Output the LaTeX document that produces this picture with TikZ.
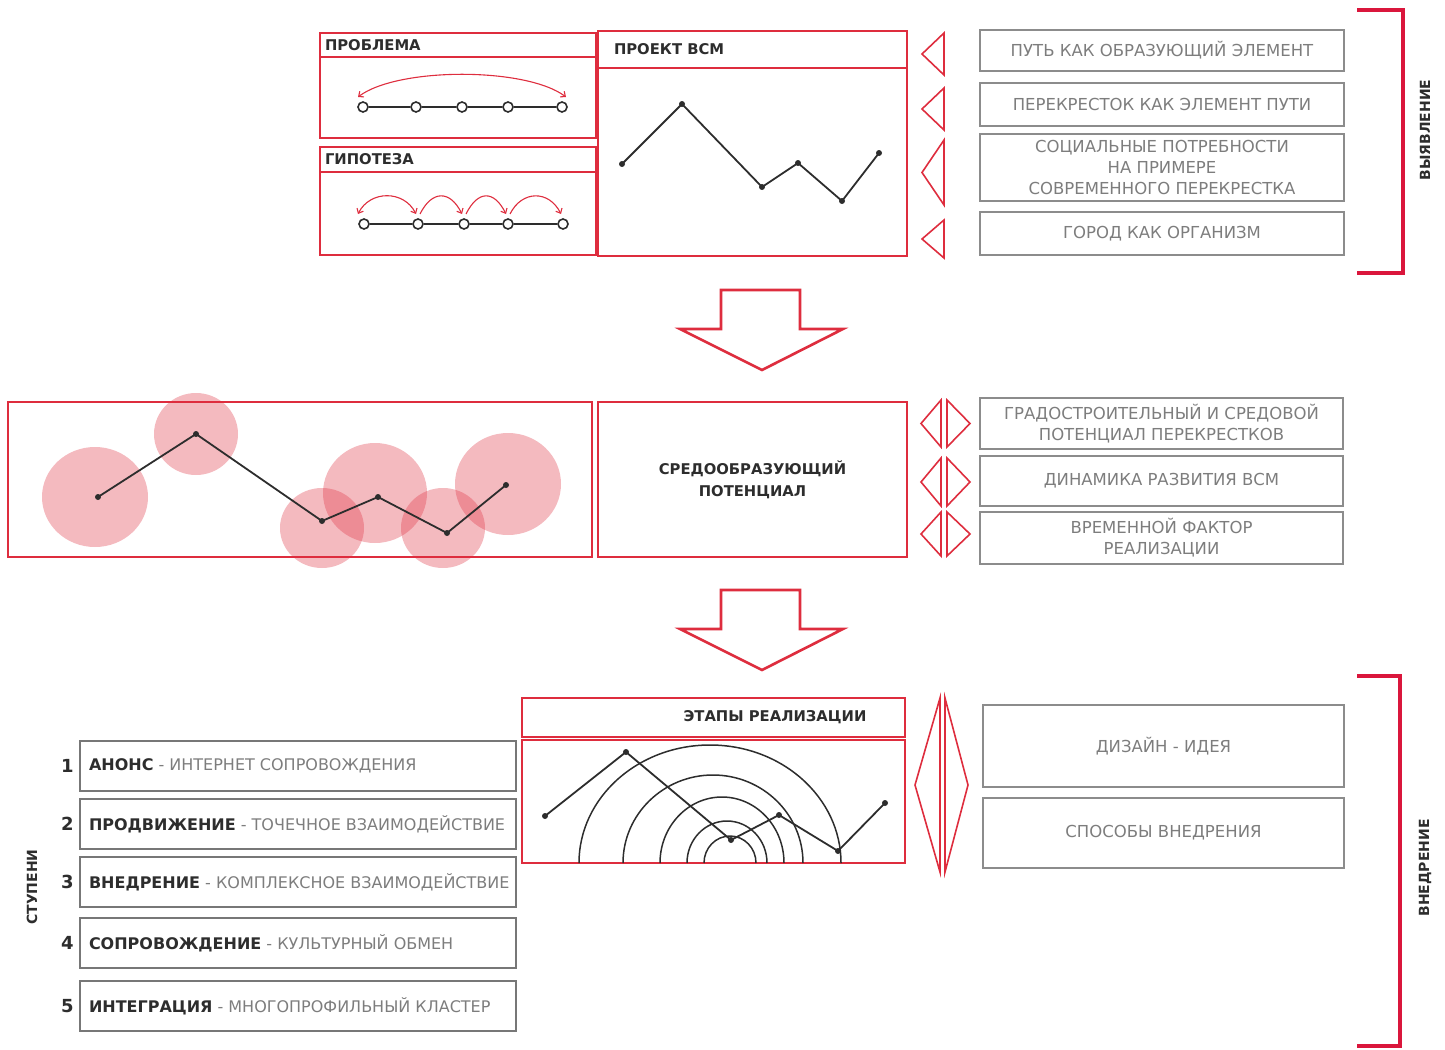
\documentclass[tikz,border=0pt]{standalone}
\usepackage{fontspec}
\setmainfont{DejaVu Sans}
\usepackage{xcolor}
\usepackage{tikz}
\usetikzlibrary{arrows.meta, positioning, fit}
\definecolor{myred}{RGB}{222,45,62}
\definecolor{brred}{RGB}{218,22,60}
\definecolor{mydark}{RGB}{45,45,45}
\definecolor{boxgrey}{RGB}{140,140,140}
\definecolor{txtgrey}{RGB}{125,125,125}
\newcommand{\hdrfont}{\bfseries\fontsize{14.8}{22}\selectfont}
\newcommand{\greyfont}{\fontsize{16.5}{21}\selectfont}
\tikzset{
  redbox/.style={rectangle, draw=myred, line width=2.4pt, inner sep=0pt},
  greybox/.style={rectangle, draw=boxgrey, line width=2.2pt, inner sep=0pt,
    text=txtgrey, font=\greyfont, align=center},
  stepbox/.style={rectangle, draw=boxgrey!85!black, line width=2.4pt,
    minimum width=436pt, minimum height=50pt, inner sep=0pt},
  steptext/.style={font=\fontsize{16}{18}\selectfont, text=mydark, inner sep=0pt},
  stepnum/.style={font=\bfseries\fontsize{18}{20}\selectfont, text=mydark, inner sep=0pt},
  hdrtext/.style={font=\hdrfont, text=mydark, inner sep=0pt, align=center},
  ring/.style={circle, draw=mydark, fill=white, line width=1.6pt,
    minimum size=10pt, inner sep=0pt},
  pdot/.style={circle, fill=mydark, minimum size=6pt, inner sep=0pt},
  pline/.style={draw=mydark, line width=1.8pt},
  redarc/.style={draw=myred, line width=1.1pt},
  blob/.style={fill=myred, fill opacity=0.33},
  tri/.style={draw=myred, line width=1.6pt, line join=miter},
  hollow/.style={draw=myred, fill=white, line width=2.6pt, line join=miter},
  bracket/.style={draw=brred, line width=3.5pt},
  sidetext/.style={font=\bfseries\fontsize{14}{16}\selectfont, text=mydark, rotate=90}
}

\begin{document}
\begin{tikzpicture}[x=1pt, y=-1pt, >={Straight Barb[length=4pt,width=7pt]}]
  \useasboundingbox (0,0) rectangle (1445,1049);

  % Problem
  \node[redbox, fit={(320,33) (596,57)}] (probH) {};
  \node[redbox, fit={(320,57) (596,138)}] (prob) {};
  \node[hdrtext, anchor=west] at ([xshift=6pt]probH.west) {ПРОБЛЕМА};
  \foreach \i/\x in {1/363,2/416,3/462,4/508,5/562}
    \node[ring] (p\i) at (\x,107) {};
  \foreach \a/\b in {1/2,2/3,3/4,4/5}
    \draw[pline] (p\a) -- (p\b);
  \draw[redarc, <->] ([xshift=-5pt,yshift=10pt]p1.center) .. controls +(40,-30) and +(-40,-30) .. ([xshift=4pt,yshift=10pt]p5.center);

  % Hypothesis
  \node[redbox, fit={(320,147) (596,172)}] (hypH) {};
  \node[redbox, fit={(320,172) (596,255)}] (hyp) {};
  \node[hdrtext, anchor=west] at ([xshift=6pt]hypH.west) {ГИПОТЕЗА};
  \foreach \i/\x in {1/364,2/418,3/464,4/508,5/563}
    \node[ring] (h\i) at (\x,224) {};
  \foreach \a/\b in {1/2,2/3,3/4,4/5}
    \draw[pline] (h\a) -- (h\b);
  \draw[redarc, <->] ([xshift=-6pt,yshift=10pt]h1.center) .. controls +(12,-24) and +(-12,-24) .. ([xshift=-2pt,yshift=10pt]h2.center);
  \foreach \a/\b in {2/3,3/4,4/5}
    \draw[redarc, ->] ([xshift=2pt,yshift=10pt]h\a.center) .. controls +(12,-24) and +(-12,-24) .. ([xshift=-2pt,yshift=10pt]h\b.center);

  % Project
  \node[redbox, fit={(598,31) (907,68)}] (projH) {};
  \node[redbox, fit={(598,68) (907,256)}] (proj) {};
  \node[hdrtext, anchor=west] at ([xshift=17pt]projH.west) {ПРОЕКТ ВСМ};
  \foreach \i/\x/\y in {1/622/164, 2/682/104, 3/762/187, 4/798/163, 5/842/201, 6/879/153}
    \node[pdot] (v\i) at (\x,\y) {};
  \draw[pline] (v1.center) -- (v2.center) -- (v3.center) -- (v4.center) -- (v5.center) -- (v6.center);

  \foreach \t/\b in {33/75, 88/130, 140/205, 220/258}
    \draw[tri] (944,\t) -- (922,{(\t+\b)/2}) -- (944,\b) -- cycle;

  \node[greybox, minimum width=364pt, minimum height=41pt] (k1) at (1162,50.5) {ПУТЬ КАК ОБРАЗУЮЩИЙ ЭЛЕМЕНТ};
  \node[greybox, minimum width=364pt, minimum height=43pt] (k2) at (1162,104.5) {ПЕРЕКРЕСТОК КАК ЭЛЕМЕНТ ПУТИ};
  \node[greybox, minimum width=364pt, minimum height=67pt] (k3) at (1162,167.5) {СОЦИАЛЬНЫЕ ПОТРЕБНОСТИ\\НА ПРИМЕРЕ\\СОВРЕМЕННОГО ПЕРЕКРЕСТКА};
  \node[greybox, minimum width=364pt, minimum height=43pt] (k4) at (1162,233.5) {ГОРОД КАК ОРГАНИЗМ};

  \draw[bracket] (1357,10) -- (1403,10) -- (1403,273) -- (1357,273);
  \node[sidetext] (find) at (1425,130) {ВЫЯВЛЕНИЕ};

  % Arrows down
  \foreach \t in {290,590}
    \draw[hollow] (721,\t) -- (800,\t) -- (800,{\t+39}) -- (843,{\t+39}) -- (762,{\t+80}) -- (680,{\t+39}) -- (721,{\t+39}) -- cycle;

  % Potential
  \node[redbox, fit={(8,402) (592,557)}] (map) {};
  \foreach \x/\y/\rx/\ry in {95/497/53/50, 196/434/42/41, 322/528/42/40, 375/493/52/50, 443/528/42/40, 508/484/53/51}
    \fill[blob] (\x,\y) ellipse[x radius=\rx, y radius=\ry];
  \foreach \i/\x/\y in {1/98/497, 2/196/434, 3/322/521, 4/378/497, 5/447/533, 6/506/485}
    \node[pdot] (m\i) at (\x,\y) {};
  \draw[pline] (m1.center) -- (m2.center) -- (m3.center) -- (m4.center) -- (m5.center) -- (m6.center);

  \node[redbox, fit={(598,402) (907,557)}] (pot) {};
  \node[hdrtext] at (pot.center) {СРЕДООБРАЗУЮЩИЙ\\ПОТЕНЦИАЛ};

  \foreach \t/\b in {400/447, 458/506, 512/556} {
    \draw[tri] (941,\t) -- (921,{(\t+\b)/2}) -- (941,\b) -- cycle;
    \draw[tri] (947,\t) -- (970,{(\t+\b)/2}) -- (947,\b) -- cycle;
  }

  \node[greybox, minimum width=363pt, minimum height=51pt] (g1) at (1161.5,423.5) {ГРАДОСТРОИТЕЛЬНЫЙ И  СРЕДОВОЙ\\ПОТЕНЦИАЛ ПЕРЕКРЕСТКОВ};
  \node[greybox, minimum width=363pt, minimum height=50pt] (g2) at (1161.5,481) {ДИНАМИКА РАЗВИТИЯ ВСМ};
  \node[greybox, minimum width=363pt, minimum height=52pt] (g3) at (1161.5,538) {ВРЕМЕННОЙ ФАКТОР\\РЕАЛИЗАЦИИ};

  % Stages
  \node[redbox, fit={(522,698) (905,737)}] (stageH) {};
  \node[redbox, fit={(522,740) (905,863)}] (stage) {};
  \node[hdrtext] at (775,717) {ЭТАПЫ РЕАЛИЗАЦИИ};
  \foreach \cx/\r/\ry in {710/131/118, 713/90/88, 722/62/66, 727/40/42, 730/26/27}
    \draw[pline, line width=1.5pt] ({\cx-\r},863) arc[start angle=180, end angle=360, x radius=\r, y radius=\ry];
  \foreach \i/\x/\y in {1/545/816, 2/626/752, 3/731/840, 4/779/815, 5/838/851, 6/885/803}
    \node[pdot] (e\i) at (\x,\y) {};
  \draw[pline] (e1.center) -- (e2.center) -- (e3.center) -- (e4.center) -- (e5.center) -- (e6.center);

  \draw[tri] (940,698) -- (915,785) -- (940,872) -- cycle;
  \draw[tri] (945,698) -- (968,785) -- (945,872) -- cycle;

  \node[greybox, minimum width=361pt, minimum height=82pt] (d1) at (1163.5,746) {ДИЗАЙН - ИДЕЯ};
  \node[greybox, minimum width=361pt, minimum height=70pt] (d2) at (1163.5,833) {СПОСОБЫ ВНЕДРЕНИЯ};

  \draw[bracket] (1357,676) -- (1400,676) -- (1400,1046) -- (1357,1046);
  \node[sidetext] (impl) at (1425,868) {ВНЕДРЕНИЕ};

  % Steps
  \foreach \i/\y/\a/\b in {1/766/АНОНС/ИНТЕРНЕТ СОПРОВОЖДЕНИЯ, 2/824/ПРОДВИЖЕНИЕ/ТОЧЕЧНОЕ ВЗАИМОДЕЙСТВИЕ, 3/882/ВНЕДРЕНИЕ/КОМПЛЕКСНОЕ ВЗАИМОДЕЙСТВИЕ, 4/943/СОПРОВОЖДЕНИЕ/КУЛЬТУРНЫЙ ОБМЕН, 5/1006/ИНТЕГРАЦИЯ/МНОГОПРОФИЛЬНЫЙ КЛАСТЕР} {
    \node[stepbox] (step\i) at (298,\y) {};
    \node[steptext, anchor=west] at ([xshift=10pt]step\i.west) {\textbf{\a}\ \textcolor{txtgrey}{-\ \b}};
    \node[stepnum, anchor=east] at ([xshift=-5pt]step\i.west) {\i};
  }
  \node[sidetext] (steps) at (32,887) {СТУПЕНИ};
\end{tikzpicture}
\end{document}
